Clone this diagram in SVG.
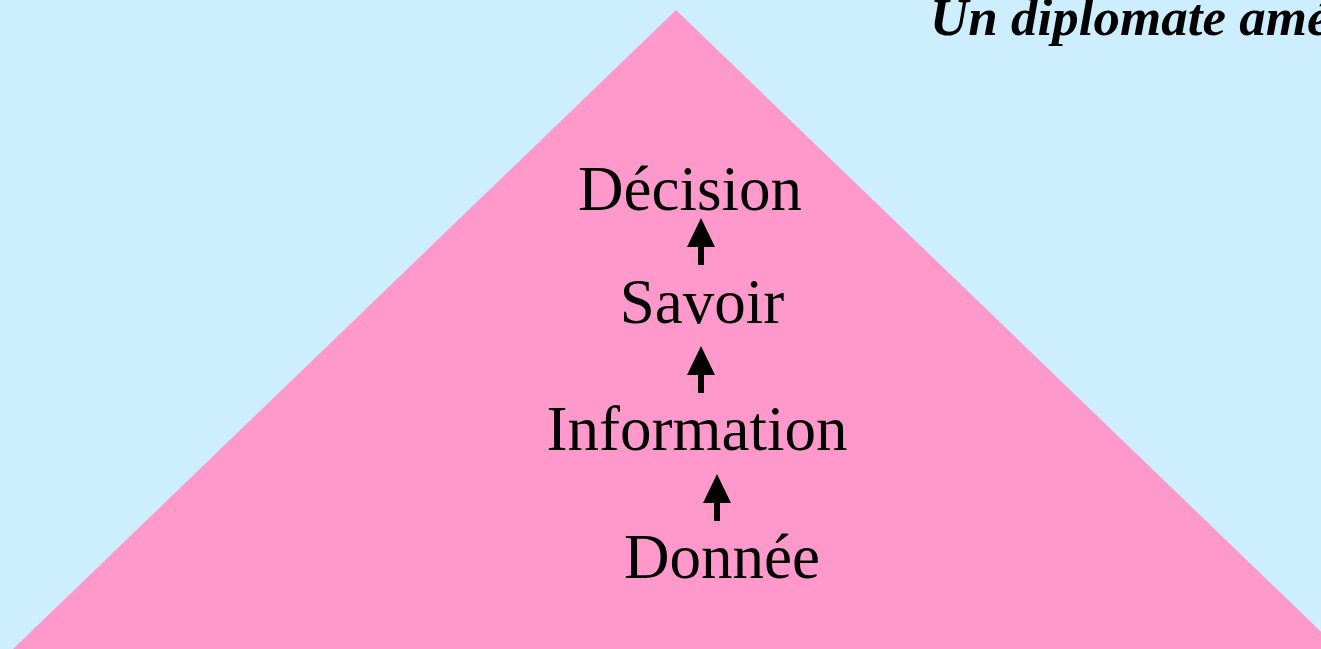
<svg xmlns="http://www.w3.org/2000/svg" width="1321" height="649" viewBox="0 0 1321 649">
<defs>
<style>
.lbl{font-family:"Liberation Serif","Times New Roman",serif;font-size:63px;fill:#000;text-anchor:middle}
.title{font-family:"Liberation Serif","Times New Roman",serif;font-size:53px;font-weight:bold;font-style:italic;fill:#000}
.arr{fill:#000}
</style>
</defs>
<rect x="0" y="0" width="1321" height="649" fill="#cceeff"/>
<g id="pyramid"><polygon points="676,10 13,649 1339,649" fill="#ff99cc"/></g>
<text class="title" x="930" y="35">Un diplomate américain</text>
<g id="decision"><text class="lbl" x="690" y="210">Décision</text></g>
<g id="savoir"><text class="lbl" x="702" y="323">Savoir</text></g>
<g id="information"><text class="lbl" x="697" y="450">Information</text></g>
<g id="donnee"><text class="lbl" x="722" y="578">Donnée</text></g>
<g id="connectors">
<path class="arr" d="M701,218 L715,247 L704,247 L704,265 L698,265 L698,247 L687,247 Z"/>
<path class="arr" d="M701,346 L715,375 L704,375 L704,393 L698,393 L698,375 L687,375 Z"/>
<path class="arr" d="M717,474 L731,503 L720,503 L720,521 L714,521 L714,503 L703,503 Z"/>
</g>
</svg>
